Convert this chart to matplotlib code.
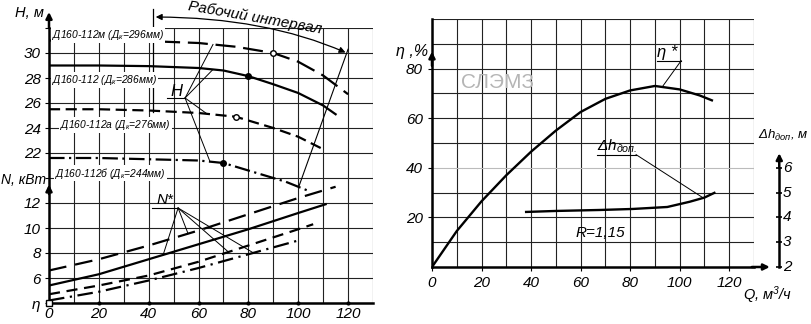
import matplotlib
matplotlib.use("Agg")
import matplotlib.pyplot as plt
import numpy as np

plt.rcParams['font.family'] = ['Liberation Sans', 'DejaVu Sans']
plt.rcParams['font.style'] = 'italic'
plt.rcParams['mathtext.fontset'] = 'custom'
plt.rcParams['mathtext.rm'] = 'Liberation Sans:italic'
plt.rcParams['mathtext.it'] = 'Liberation Sans:italic'
plt.rcParams['mathtext.sf'] = 'Liberation Sans:italic'

# ---- left chart: head H (m) and power N (kW) vs Q ----
# head curves for four impellers
q_h_m = [0, 20, 40, 60, 75, 90, 100, 110, 120]
h_m = [31.0, 31.0, 30.95, 30.8, 30.5, 30.0, 29.3, 28.2, 26.7]
q_h_0 = [0, 20, 40, 60, 70, 80, 90, 100, 110, 115]
h_0 = [29.0, 29.0, 28.95, 28.8, 28.6, 28.15, 27.5, 26.8, 25.8, 25.1]
q_h_a = [0, 20, 40, 60, 75, 90, 100, 110]
h_a = [25.5, 25.5, 25.4, 25.2, 24.9, 24.0, 23.3, 22.3]
q_h_b = [0, 20, 40, 60, 70, 85, 95, 105]
h_b = [21.6, 21.6, 21.5, 21.4, 21.2, 20.3, 19.7, 18.9]

# duty points on the head curves
pt_q = [90, 80, 75, 70]
pt_h = [30.0, 28.15, 24.9, 21.2]
pt_filled = [False, True, False, True]

# power curves
q_n_m = [0, 20, 40, 60, 80, 100, 115]
n_m = [6.6, 7.5, 8.6, 9.8, 11.1, 12.4, 13.3]
q_n_0 = [0, 20, 40, 60, 80, 100, 111]
n_0 = [5.4, 6.3, 7.5, 8.7, 9.9, 11.2, 11.9]
q_n_a = [0, 20, 40, 60, 80, 100, 106]
n_a = [4.7, 5.4, 6.2, 7.3, 8.6, 9.9, 10.3]
q_n_b = [0, 20, 40, 60, 80, 100]
n_b = [4.2, 4.9, 5.8, 6.8, 7.9, 9.0]
n_shift = 6  # N axis drawn below H axis on same grid

labels_h = ["Д160-112м (Д$_к$=296мм)", "Д160-112 (Д$_к$=286мм)",
            "Д160-112а (Д$_к$=276мм)", "Д160-112б (Д$_к$=244мм)"]
label_pos = [(1.2, 31.45), (1.2, 27.85), (4.5, 24.25), (2.5, 20.4)]

work_q = [41.7, 120]  # working interval

# ---- right chart: efficiency and NPSH ----
q_eta = [0, 10, 20, 30, 40, 50, 60, 70, 80, 90, 100, 108, 113]
eta = [0, 14.5, 26.5, 37, 46.5, 55, 62.5, 67.8, 71.2, 73, 71.6, 69.2, 67.2]
q_dh = [38, 50, 68, 81, 95, 104, 110, 114]
dh = [4.22, 4.26, 4.30, 4.34, 4.42, 4.63, 4.8, 4.99]
dh_ticks = [2, 3, 4, 5, 6]

fig = plt.figure(figsize=(8.12, 3.24), dpi=100)
W, Hp = 812, 324

# ================= left =================
ax = fig.add_axes([49 / W, 21 / Hp, 324 / W, 275 / Hp])
ax.set_xlim(0, 130)
ax.set_ylim(10, 32)
ax.set_xticks(range(0, 131, 10))
ax.set_xticklabels([str(v) if v % 20 == 0 and v <= 120 else "" for v in range(0, 131, 10)])
yt = list(range(10, 33, 2))
ylab = []
for v in yt:
    if v == 10:
        ylab.append("η")
    elif v in (12, 14, 16, 18):
        ylab.append(str(v - n_shift))
    elif 22 <= v <= 30:
        ylab.append(str(v))
    else:
        ylab.append("")
ax.set_yticks(yt)
ax.set_yticklabels(ylab)
ax.tick_params(axis='x', length=0, labelsize=11, pad=3)
ax.tick_params(axis='y', length=3, labelsize=11, pad=3)
ax.grid(True, color='#222222', lw=0.8)
for s in ['top', 'right']:
    ax.spines[s].set_visible(False)
ax.spines['left'].set_linewidth(1.8)
ax.spines['bottom'].set_linewidth(1.8)
ax.set_axisbelow(True)

lw = 1.6
ax.plot(q_h_m, h_m, color='k', lw=lw, dashes=(9, 3.5))
ax.plot(q_h_0, h_0, color='k', lw=lw)
ax.plot(q_h_a, h_a, color='k', lw=lw, dashes=(5, 2.5))
ax.plot(q_h_b, h_b, color='k', lw=lw, dashes=(7, 2, 1, 2))
for q, h, f in zip(pt_q, pt_h, pt_filled):
    ax.plot(q, h, 'o', ms=4, mfc='k' if f else 'white', mec='k', mew=1)

ax.plot(q_n_m, np.array(n_m) + n_shift, color='k', lw=lw, dashes=(8, 4))
ax.plot(q_n_0, np.array(n_0) + n_shift, color='k', lw=lw)
ax.plot(q_n_a, np.array(n_a) + n_shift, color='k', lw=lw, dashes=(5, 3))
ax.plot(q_n_b, np.array(n_b) + n_shift, color='k', lw=lw, dashes=(7, 2.5, 1, 2.5))

for t, (x, y) in zip(labels_h, label_pos):
    ax.text(x, y, t, fontsize=7.4, ha='left', va='center',
            bbox=dict(fc='white', ec='none', pad=0.6), zorder=5)

# tick dots and origin square
ax.plot(range(20, 121, 20), [10] * 6, 'k.', ms=4, clip_on=False, zorder=6)
ax.plot(0, 10, 's', ms=4, mfc='white', mec='k', clip_on=False, zorder=6)

# axis arrows
arr = dict(arrowstyle='-|>', color='k', lw=1.8, mutation_scale=9)
ax.annotate('', xy=(0, 33.5), xytext=(0, 31.8), arrowprops=arr, annotation_clip=False)
ax.annotate('', xy=(0, 19.7), xytext=(0, 18.5), arrowprops=arr, annotation_clip=False)
ax.text(-2, 33.2, "H, м", fontsize=10.5, ha='right', va='center')
ax.text(-1.2, 19.8, "N, кВт", fontsize=10, ha='right', va='center')

# H leaders
ax.plot([47.4, 54.6], [26.4, 26.4], color='k', lw=0.8)
ax.text(51, 26.9, "H", fontsize=12, ha='center', va='center')
for qq, h in zip([65.8, 65.8, 63.4, 64.6], [(q_h_m, h_m), (q_h_0, h_0), (q_h_a, h_a), (q_h_b, h_b)]):
    ax.plot([54.6, qq], [26.4, np.interp(qq, *h)], color='k', lw=0.7)

# N leaders
ax.plot([41.3, 51.8], [17.6, 17.6], color='k', lw=0.8)
ax.text(46.5, 18.2, "N*", fontsize=11, ha='center', va='center')
for qq, n in zip([45.8, 55.8, 72, 82], [(q_n_0, n_0), (q_n_m, n_m), (q_n_a, n_a), (q_n_b, n_b)]):
    ax.plot([51.8, qq], [17.6, np.interp(qq, *n) + n_shift], color='k', lw=0.7)

# working interval
ax.plot([work_q[0], work_q[0]], [33.5, 25.3], color='k', lw=0.9, clip_on=False)
ax.plot([work_q[1], 100.4], [30.3, 19.4], color='k', lw=0.8, clip_on=False)
ax.annotate('', xy=(work_q[0], 32.88), xytext=(work_q[1], 29.95),
            arrowprops=dict(arrowstyle='<|-|>', color='k', lw=0.9, mutation_scale=9,
                            connectionstyle='angle3,angleA=-24,angleB=0'),
            annotation_clip=False)
ax.text(82.7, 32.8, "Рабочий интервал", fontsize=11, rotation=-10,
        ha='center', va='center')

# ================= right =================
ax2 = fig.add_axes([432 / W, 57 / Hp, 322 / W, 248 / Hp])
ax2.set_xlim(0, 130)
ax2.set_ylim(0, 100)
ax2.set_xticks(range(0, 121, 20))
ax2.set_xticks(range(10, 131, 20), minor=True)
ax2.set_yticks([20, 40, 60, 80])
ax2.set_yticks([10, 30, 50, 70, 90, 100], minor=True)
ax2.tick_params(which='major', length=3, labelsize=11)
ax2.tick_params(which='minor', length=0)
ax2.grid(True, which='both', color='#222222', lw=0.8)
ax2.get_ygridlines()[1].set_color('#bbbbbb')
for s in ['top', 'right']:
    ax2.spines[s].set_visible(False)
ax2.spines['left'].set_linewidth(1.8)
ax2.spines['bottom'].set_linewidth(1.8)
ax2.set_axisbelow(True)

ax2.plot(q_eta, eta, color='k', lw=1.7)
ax2.plot(q_dh, (np.array(dh) - 2) * 10, color='k', lw=1.7)

ax2.annotate('', xy=(0, 88), xytext=(0, 80), arrowprops=arr, annotation_clip=False)
ax2.annotate('', xy=(137.5, 0), xytext=(128, 0), arrowprops=arr, annotation_clip=False)
ax2.text(-1.5, 87, "η ,%", fontsize=11.5, ha='right', va='center')
ax2.text(125.5, -11.5, "Q, м$^3$/ч", fontsize=10.5, ha='left', va='center')

# NPSH axis
x_dh = 140.2
ax2.plot([x_dh, x_dh], [0, 40], color='k', lw=1.8, clip_on=False)
ax2.annotate('', xy=(x_dh, 47), xytext=(x_dh, 39), arrowprops=arr, annotation_clip=False)
ax2.plot([x_dh] * len(dh_ticks), [(v - 2) * 10 for v in dh_ticks], 'k_', ms=5,
         mew=1.2, clip_on=False)
for v in dh_ticks:
    ax2.text(x_dh + 1.5, (v - 2) * 10, str(v), fontsize=11, ha='left', va='center')
ax2.text(131.5, 53, r"$\Delta h_{доп}$, м", fontsize=9.5, ha='left', va='center')

ax2.text(26.3, 74.3, "СЛЭМЗ", fontsize=15, color='#b5b5b5', style='normal',
         ha='center', va='center')
ax2.text(95, 86.5, "η *", fontsize=12, ha='center', va='center')
ax2.plot([90.9, 100.6], [83.2, 83.2], color='k', lw=0.8)
ax2.plot([100.6, 93.3], [83.2, 73.1], color='k', lw=0.7)
ax2.text(74.7, 48.5, r"$\Delta h_{доп.}$", fontsize=11, ha='center', va='center')
ax2.plot([66.7, 82.4], [45.3, 45.3], color='k', lw=0.8)
ax2.plot([82.4, 109.5], [45.3, (np.interp(109.5, q_dh, dh) - 2) * 10], color='k', lw=0.7)
ax2.text(67.9, 13.7, "R=1,15", fontsize=11, ha='center', va='center')

fig.savefig("out.png", dpi=100)
